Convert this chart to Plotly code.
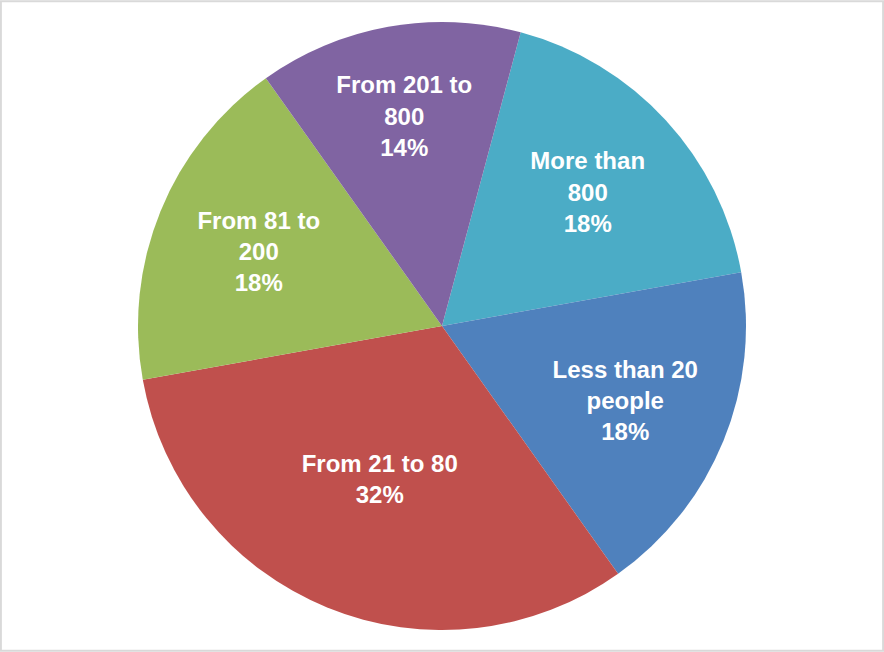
import plotly.graph_objects as go

categories = ["More than 800", "Less than 20 people", "From 21 to 80", "From 81 to 200", "From 201 to 800"]
label_text = ["More than<br>800", "Less than 20<br>people", "From 21 to 80", "From 81 to<br>200", "From 201 to<br>800"]
values = [18, 18, 32, 18, 14]
colors = ["#4BACC6", "#4F81BD", "#C0504D", "#9BBB59", "#8064A2"]

W, H = 884, 652
texts = [f"{t}<br>{v}%" for t, v in zip(label_text, values)]

fig = go.Figure(go.Pie(
    labels=categories,
    values=values,
    text=texts,
    textinfo="text",
    textposition="inside",
    insidetextorientation="horizontal",
    sort=False,
    direction="clockwise",
    rotation=15,
    marker=dict(colors=colors, line=dict(width=0)),
    textfont=dict(family="Liberation Sans, Arial", size=24, color="white", weight="bold"),
    hoverinfo="label+percent",
    domain=dict(x=[0, 1], y=[22 / H, 1 - 22 / H]),
))

fig.update_layout(
    width=W, height=H,
    margin=dict(l=0, r=0, t=0, b=0),
    paper_bgcolor="white",
    showlegend=False,
    uniformtext=dict(minsize=24, mode="show"),
    shapes=[dict(type="rect", xref="paper", yref="paper", x0=0.001, y0=0.002, x1=0.999, y1=0.998,
                 line=dict(color="#D9D9D9", width=2))],
)

fig.write_html("out.html", config={"displayModeBar": False},
               post_script="document.body.style.margin='0';document.body.style.padding='0';")
